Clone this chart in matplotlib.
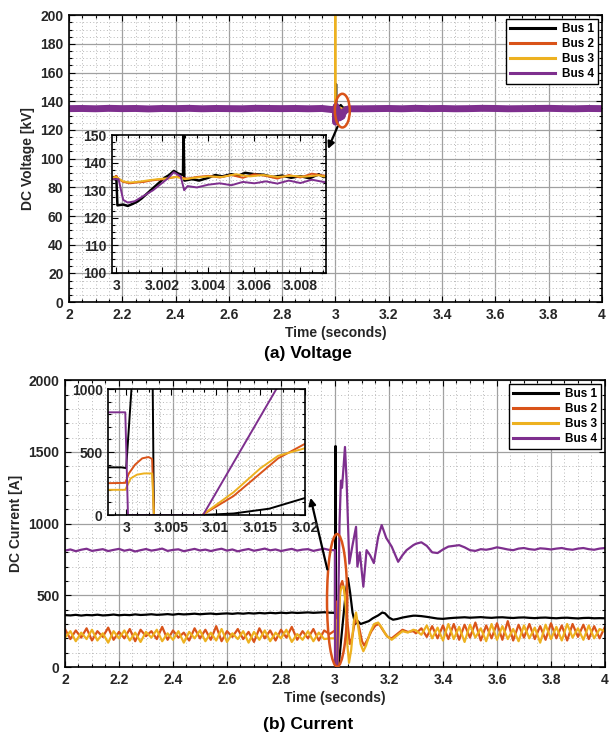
import numpy as np
import matplotlib.pyplot as plt
from matplotlib.patches import Ellipse
from matplotlib.ticker import MultipleLocator

plt.rcParams['font.family'] = ['Liberation Sans', 'DejaVu Sans']
plt.rcParams['font.weight'] = 'bold'

# bus colours (MATLAB default order, bus 1 in black)
bus_names = ["Bus 1", "Bus 2", "Bus 3", "Bus 4"]
bus_colors = ["#000000", "#D95319", "#EDB120", "#7E2F8E"]

# ---------------- DC voltage [kV] ----------------
tv_pre = np.round(np.arange(2.0, 2.951, 0.05), 4)
tv_post = np.round(np.arange(3.1, 4.001, 0.05), 4)

v1_pre = [135.4, 135.6, 135.2, 135.5, 135.7, 135.3, 135.6, 135.4, 135.8, 135.5,
          135.3, 135.6, 135.7, 135.4, 135.5, 135.8, 135.6, 135.3, 135.5, 135.7]
v2_pre = [135.0, 134.8, 135.2, 134.9, 135.1, 134.7, 135.0, 135.2, 134.8, 135.0,
          135.1, 134.9, 135.2, 134.8, 135.0, 134.9, 135.1, 134.8, 135.0, 135.1]
v3_pre = [134.9, 135.1, 134.8, 135.0, 135.2, 134.9, 135.1, 134.8, 135.0, 135.2,
          134.9, 135.0, 134.8, 135.1, 134.9, 135.2, 135.0, 134.9, 135.1, 135.0]
v4_pre = [134.9, 135.0, 134.8, 135.1, 134.9, 135.0, 134.7, 135.0, 134.9, 135.1,
          134.8, 135.0, 134.9, 134.8, 135.1, 135.0, 134.9, 135.0, 134.8, 135.0]

v1_post = [135.6, 135.4, 135.7, 135.5, 135.3, 135.6, 135.8, 135.4, 135.5, 135.7,
           135.3, 135.6, 135.5, 135.8, 135.4, 135.6, 135.3, 135.7, 135.5]
v2_post = [135.1, 134.9, 135.0, 135.2, 134.8, 135.0, 135.1, 134.9, 135.2, 135.0,
           134.8, 135.1, 135.0, 134.9, 135.2, 134.8, 135.0, 135.1, 134.9]
v3_post = [135.0, 135.2, 134.9, 135.0, 135.1, 134.8, 135.0, 135.2, 134.9, 135.1,
           135.0, 134.8, 135.1, 135.0, 134.9, 135.1, 135.2, 134.9, 135.0]
v4_post = [134.8, 134.9, 135.0, 134.8, 135.1, 134.9, 135.0, 134.8, 134.9, 135.1,
           135.0, 134.8, 134.9, 135.0, 135.1, 134.9, 134.8, 135.0, 134.9]

# around the fault instant
tv1_f = [2.9998, 2.99995, 3.0, 3.00005, 3.0003, 3.0005, 3.0007, 3.0009, 3.0011, 3.0013,
         3.0015, 3.0017, 3.0019, 3.0021, 3.0023, 3.0025, 3.0027, 3.0029, 3.00292, 3.00296,
         3.0033, 3.0036, 3.004, 3.0043, 3.0046, 3.005, 3.0053, 3.0056, 3.006, 3.0064,
         3.0068, 3.0072, 3.0076, 3.008, 3.0084, 3.0088, 3.009, 3.012, 3.02, 3.03, 3.04, 3.05]
v1_f = [134.2, 134.0, 135.0, 124.5, 124.8, 124.3, 125.0, 125.8, 127.0, 128.5,
        130.0, 131.5, 133.0, 134.5, 135.5, 137.0, 136.0, 135.5, 152.0, 133.5,
        134.0, 133.5, 134.5, 135.5, 135.0, 135.8, 135.2, 136.3, 135.8, 135.6,
        134.8, 135.3, 134.5, 135.1, 134.3, 135.8, 134.8, 136.0, 137.5, 135.5, 135.8, 135.5]

tv2_f = [2.9998, 3.0, 3.0001, 3.0003, 3.0006, 3.0009, 3.0012, 3.0015, 3.0018, 3.0021,
         3.0024, 3.0027, 3.0029, 3.0031, 3.0035, 3.004, 3.0045, 3.005, 3.0055, 3.006,
         3.0065, 3.007, 3.0075, 3.008, 3.0085, 3.009, 3.015, 3.025, 3.04, 3.05]
v2_f = [134.0, 135.2, 134.0, 133.0, 132.5, 132.8, 133.0, 133.5, 133.8, 134.0,
        134.5, 135.0, 134.5, 134.2, 134.8, 135.2, 134.6, 135.5, 134.5, 135.8,
        135.2, 134.2, 135.5, 134.6, 136.0, 135.3, 135.5, 134.5, 135.2, 135.0]

tv3_f = [2.9996, 2.9997, 2.99975, 2.9998, 3.0, 3.0003, 3.0006, 3.001, 3.0014, 3.0018,
         3.0022, 3.0026, 3.003, 3.0034, 3.004, 3.0046, 3.0052, 3.0058, 3.0064, 3.007,
         3.0076, 3.0082, 3.0088, 3.009, 3.015, 3.03, 3.05]
v3_f = [135.0, 215.0, 135.0, 134.5, 134.8, 133.2, 132.8, 133.1, 133.6, 134.0,
        134.3, 134.8, 134.0, 134.5, 135.0, 134.8, 135.8, 135.0, 135.5, 134.8,
        135.2, 134.9, 135.4, 135.0, 135.2, 134.8, 135.0]

tv4_f = [2.9998, 3.0001, 3.0003, 3.0005, 3.0008, 3.001, 3.0013, 3.0016, 3.0019, 3.0022,
         3.0025, 3.0028, 3.00295, 3.0031, 3.0035, 3.004, 3.0045, 3.005, 3.0055, 3.006,
         3.0065, 3.007, 3.0075, 3.008, 3.0085, 3.009, 3.012, 3.016, 3.02, 3.025,
         3.03, 3.04, 3.05]
v4_f = [134.0, 134.0, 126.5, 125.5, 126.0, 127.0, 128.5, 130.0, 132.0, 134.0,
        136.5, 135.0, 130.0, 131.5, 131.0, 132.0, 132.5, 131.8, 133.0, 132.5,
        133.2, 132.4, 133.5, 132.6, 133.8, 133.0, 130.5, 128.5, 131.0, 129.5,
        132.5, 134.0, 134.8]

# ---------------- DC current [A] ----------------
ti_pre = np.round(np.arange(2.0, 2.981, 0.02), 4)
ti_post = np.round(np.arange(3.3, 4.001, 0.02), 4)

i1_pre = [362, 360, 364, 359, 363, 361, 365, 360, 362, 366, 361, 364, 362, 367, 363,
          365, 368, 364, 366, 369, 365, 370, 367, 369, 372, 368, 371, 373, 369, 372,
          374, 371, 375, 372, 376, 373, 377, 374, 378, 375, 379, 376, 380, 377, 379,
          381, 378, 380, 382, 379]
i2_pre = [265, 195, 255, 205, 270, 185, 250, 210, 275, 190, 245, 200, 265, 180, 260,
          215, 250, 195, 280, 190, 255, 205, 240, 185, 270, 200, 260, 190, 285, 180,
          250, 210, 265, 195, 245, 175, 270, 200, 255, 185, 260, 205, 280, 190, 250,
          200, 265, 185, 255, 230]
i3_pre = [205, 250, 180, 240, 195, 260, 185, 235, 170, 250, 200, 255, 185, 240, 175,
          245, 205, 260, 180, 235, 190, 250, 170, 245, 200, 255, 180, 240, 185, 265,
          175, 235, 195, 250, 170, 245, 190, 255, 180, 240, 200, 260, 175, 230, 190,
          250, 180, 240, 195, 200]
i4_pre = [812, 820, 808, 818, 825, 810, 816, 822, 809, 817, 824, 811, 819, 806, 815,
          823, 812, 818, 826, 810, 817, 821, 808, 816, 824, 813, 819, 809, 818, 825,
          812, 820, 807, 816, 823, 811, 818, 826, 814, 820, 809, 817, 824, 812, 819,
          822, 810, 818, 825, 816]

i1_post = [358, 355, 350, 344, 338, 336, 340, 343, 345, 347, 344, 346, 348, 345, 343,
           346, 347, 344, 342, 345, 346, 343, 341, 344, 345, 342, 340, 343, 344, 341,
           339, 342, 343, 340, 341, 340]
i2_post = [235, 270, 210, 285, 200, 290, 195, 300, 190, 295, 205, 310, 185, 290, 200,
           305, 190, 320, 185, 295, 205, 300, 195, 285, 190, 305, 200, 290, 185, 300,
           210, 295, 195, 285, 200, 280]
i3_post = [255, 225, 290, 200, 275, 185, 300, 195, 280, 175, 295, 205, 270, 180, 300,
           190, 285, 195, 265, 180, 290, 200, 275, 170, 295, 195, 280, 185, 300, 205,
           270, 190, 290, 200, 265, 250]
i4_post = [860, 870, 845, 800, 795, 820, 840, 845, 850, 835, 815, 810, 822, 818, 825,
           835, 828, 820, 815, 826, 830, 822, 818, 828, 825, 820, 826, 830, 822, 818,
           826, 830, 822, 818, 826, 830]

ti1_f = [2.9995, 3.0, 3.0011, 3.0029, 3.0031, 3.0085, 3.012, 3.016, 3.02, 3.03,
         3.04, 3.048, 3.056, 3.065, 3.075, 3.085, 3.095, 3.11, 3.125, 3.14,
         3.16, 3.175, 3.185, 3.2, 3.215, 3.23, 3.25, 3.27, 3.29]
i1_f = [378, 372, 1540, 1540, 0, 0, 12, 50, 135, 330,
        520, 620, 520, 380, 300, 320, 300, 310, 320, 340,
        360, 380, 375, 345, 330, 335, 345, 352, 358]

ti2_f = [2.9999, 3.0003, 3.001, 3.0018, 3.0025, 3.0029, 3.0031, 3.0085, 3.012, 3.015,
         3.017, 3.02, 3.027, 3.034, 3.04, 3.047, 3.055, 3.063, 3.072, 3.08,
         3.09, 3.1, 3.108, 3.12, 3.135, 3.15, 3.163, 3.18, 3.195, 3.21,
         3.23, 3.25, 3.27, 3.29]
i2_f = [255, 330, 400, 450, 460, 445, 0, 0, 150, 330,
        450, 565, 600, 540, 470, 300, 160, 200, 300, 340,
        270, 180, 150, 190, 250, 290, 300, 250, 210, 200,
        230, 260, 245, 250]

ti3_f = [2.9999, 3.0005, 3.0012, 3.002, 3.0029, 3.0031, 3.0085, 3.012, 3.015, 3.017,
         3.02, 3.027, 3.033, 3.04, 3.046, 3.052, 3.06, 3.07, 3.078, 3.086,
         3.095, 3.105, 3.115, 3.13, 3.145, 3.16, 3.175, 3.19, 3.21, 3.23,
         3.25, 3.27, 3.29]
i3_f = [200, 290, 320, 330, 330, 0, 0, 180, 370, 470,
        530, 560, 560, 420, 150, 30, 120, 320, 380, 280,
        160, 110, 150, 240, 300, 310, 270, 220, 190, 220,
        250, 240, 260]

ti4_f = [2.9999, 3.0002, 3.0086, 3.0168, 3.022, 3.026, 3.03, 3.037, 3.043, 3.053,
         3.065, 3.078, 3.083, 3.092, 3.105, 3.117, 3.13, 3.144, 3.16, 3.173,
         3.19, 3.21, 3.234, 3.25, 3.265, 3.29]
i4_f = [815, 0, 0, 1000, 1300, 1250, 1350, 1535, 1300, 722,
        850, 978, 700, 800, 560, 815, 780, 725, 908, 990,
        900, 840, 734, 780, 815, 850]

# tick labels
main_xticks = [2.0, 2.2, 2.4, 2.6, 2.8, 3.0, 3.2, 3.4, 3.6, 3.8, 4.0]
main_xlabels = ["2", "2.2", "2.4", "2.6", "2.8", "3", "3.2", "3.4", "3.6", "3.8", "4"]
vin_xticks = [3.0, 3.002, 3.004, 3.006, 3.008]
vin_xlabels = ["3", "3.002", "3.004", "3.006", "3.008"]
iin_xticks = [3.0, 3.005, 3.01, 3.015, 3.02]
iin_xlabels = ["3", "3.005", "3.01", "3.015", "3.02"]


def join(t_pre, pre, t_f, f, t_post, post):
    return (np.concatenate([t_pre, t_f, t_post]),
            np.concatenate([pre, f, post]))


volt = [join(tv_pre, v1_pre, tv1_f, v1_f, tv_post, v1_post),
        join(tv_pre, v2_pre, tv2_f, v2_f, tv_post, v2_post),
        join(tv_pre, v3_pre, tv3_f, v3_f, tv_post, v3_post),
        join(tv_pre, v4_pre, tv4_f, v4_f, tv_post, v4_post)]
curr = [join(ti_pre, i1_pre, ti1_f, i1_f, ti_post, i1_post),
        join(ti_pre, i2_pre, ti2_f, i2_f, ti_post, i2_post),
        join(ti_pre, i3_pre, ti3_f, i3_f, ti_post, i3_post),
        join(ti_pre, i4_pre, ti4_f, i4_f, ti_post, i4_post)]

TXT = "#262626"


def style(ax, xmin, ymin, fs=10):
    ax.xaxis.set_minor_locator(MultipleLocator(xmin))
    ax.yaxis.set_minor_locator(MultipleLocator(ymin))
    ax.tick_params(which="both", direction="in", top=True, right=True,
                   labelsize=fs, labelcolor=TXT, width=0.8)
    ax.tick_params(which="major", length=4, pad=4)
    ax.tick_params(which="minor", length=2)
    for lab in ax.get_xticklabels() + ax.get_yticklabels():
        lab.set_fontweight("bold")
    for s in ax.spines.values():
        s.set_linewidth(1.2)
        s.set_color("black")
    ax.grid(which="minor", color="#b8b8b8", lw=0.7, ls=(0, (1, 2.5)))
    ax.set_axisbelow(True)


fig = plt.figure(figsize=(6.16, 7.39), dpi=100)

# ---- (a) voltage ----
ax1 = fig.add_axes([0.112, 0.5913, 0.865, 0.388])
for k in range(4):
    t, v = volt[k]
    lw = 5.0 if k == 3 else 1.5
    ax1.plot(t, v, color=bus_colors[k], lw=lw, label=bus_names[k])
ax1.set_xlim(2, 4)
ax1.set_ylim(0, 200)
ax1.set_xticks(main_xticks)
ax1.set_xticklabels(main_xlabels)
ax1.set_yticks(range(0, 201, 20))
ax1.grid(which="major", color="#a0a0a0", lw=0.9)
style(ax1, 0.05, 5)
ax1.set_xlabel("Time (seconds)", fontsize=10, fontweight="bold", color=TXT, labelpad=3)
ax1.set_ylabel("DC Voltage [kV]", fontsize=10, fontweight="bold", color=TXT, labelpad=4)
leg = ax1.legend(loc="upper right", fontsize=8.5, handlelength=3.8, handletextpad=0.6,
                 labelspacing=0.25, borderaxespad=0.3, fancybox=False, framealpha=1,
                 edgecolor="black", borderpad=0.35)
leg.get_frame().set_linewidth(1.0)
for h in leg.get_lines():
    h.set_linewidth(2.2)
for txt in leg.get_texts():
    txt.set_fontweight("bold")
ax1.add_patch(Ellipse((3.026, 133.5), 0.056, 23.5, fill=False, ec="#D95319", lw=1.8, zorder=6))
ax1.annotate("", xy=(2.968, 105), xytext=(3.012, 124),
             arrowprops=dict(arrowstyle="-|>", color="black", lw=1.6, mutation_scale=10),
             zorder=7)

ins1 = fig.add_axes([0.1813, 0.6306, 0.3474, 0.1867])
ins1.set_facecolor("none")
for k in range(4):
    t, v = volt[k]
    ins1.plot(t, v, color=bus_colors[k], lw=1.8 if k == 0 else 1.4)
ins1.set_xlim(2.9998, 3.0091)
ins1.set_ylim(100, 150)
ins1.set_xticks(vin_xticks)
ins1.set_xticklabels(vin_xlabels)
ins1.set_yticks(range(100, 151, 10))
style(ins1, 0.0005, 2.5)

# ---- (b) current ----
ax2 = fig.add_axes([0.1055, 0.0974, 0.8766, 0.388])
for k in range(4):
    t, c = curr[k]
    ax2.plot(t, c, color=bus_colors[k], lw=1.6, label=bus_names[k])
ax2.set_xlim(2, 4)
ax2.set_ylim(0, 2000)
ax2.set_xticks(main_xticks)
ax2.set_xticklabels(main_xlabels)
ax2.set_yticks(range(0, 2001, 500))
ax2.grid(which="major", color="#a0a0a0", lw=0.9)
style(ax2, 0.05, 100)
ax2.set_xlabel("Time (seconds)", fontsize=10, fontweight="bold", color=TXT, labelpad=3)
ax2.set_ylabel("DC Current [A]", fontsize=10, fontweight="bold", color=TXT, labelpad=4)
leg = ax2.legend(loc="upper right", fontsize=8.5, handlelength=3.8, handletextpad=0.6,
                 labelspacing=0.25, borderaxespad=0.3, fancybox=False, framealpha=1,
                 edgecolor="black", borderpad=0.35)
leg.get_frame().set_linewidth(1.0)
for h in leg.get_lines():
    h.set_linewidth(2.2)
for txt in leg.get_texts():
    txt.set_fontweight("bold")
ax2.add_patch(Ellipse((3.008, 465), 0.075, 925, fill=False, ec="#D95319", lw=1.8, zorder=6))
ax2.annotate("", xy=(2.907, 1199), xytext=(2.974, 662),
             arrowprops=dict(arrowstyle="-|>", color="black", lw=1.6, mutation_scale=10),
             zorder=7)

ins2 = fig.add_axes([0.1758, 0.3031, 0.3193, 0.1705])
ins2.set_facecolor("none")
for k in range(4):
    t, c = curr[k]
    ins2.plot(t, c, color=bus_colors[k], lw=1.4)
ins2.set_xlim(2.998, 3.0198)
ins2.set_ylim(0, 1000)
ins2.set_xticks(iin_xticks)
ins2.set_xticklabels(iin_xlabels)
ins2.set_yticks([0, 500, 1000])
style(ins2, 0.00125, 100)

fig.text(0.5, 0.521, "(a) Voltage", ha="center", va="center", fontsize=12.5, fontweight="bold")
fig.text(0.5, 0.019, "(b) Current", ha="center", va="center", fontsize=12.5, fontweight="bold")

fig.savefig("out.png", dpi=100)
